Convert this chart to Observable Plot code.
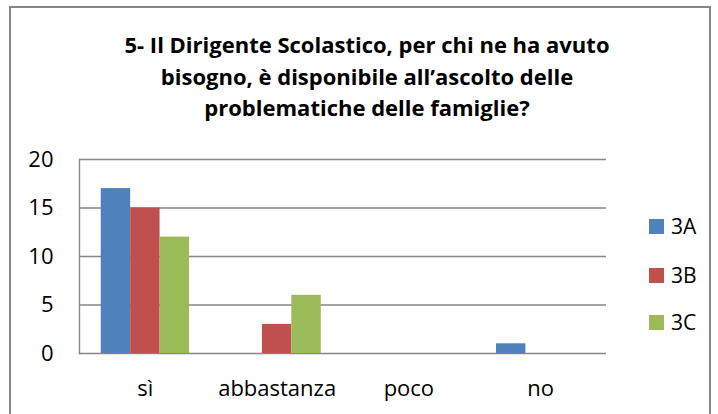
<!DOCTYPE html>
<html>
<head>
<meta charset="utf-8">
<script src="https://cdn.jsdelivr.net/npm/d3@7"></script>
<script src="https://cdn.jsdelivr.net/npm/@observablehq/plot@0.6"></script>
<style>
  html, body { margin: 0; padding: 0; background: #fff; }
  #wrap { position: relative; width: 718px; height: 414px; overflow: hidden; background: #fff; font-family: "Open Sans", sans-serif; }
  #border { position: absolute; left: 9px; top: 6px; width: 702px; height: 430px; border: 2px solid #878787; box-sizing: border-box; pointer-events: none; }
  #title { position: absolute; left: 0; width: 734px; top: 29px; text-align: center; font-weight: bold; font-size: 22px; line-height: 31.5px; color: #000; }
  #chart { position: absolute; left: 0; top: 0; }
  .leg { position: absolute; left: 649px; font-size: 21px; color: #000; height: 15px; }
  .leg span.sw { position: absolute; left: 0; top: 0; width: 15px; height: 15px; }
  .leg span.tx { position: absolute; left: 22px; top: -7px; line-height: 28px; white-space: nowrap; }
</style>
</head>
<body>
<div id="wrap">
  <div id="chart"></div>
  <div id="title"></div>
  <div id="legend"></div>
  <div id="border"></div>
</div>
<script>
const titleLines = ["5- Il Dirigente Scolastico, per chi ne ha avuto", "bisogno, è disponibile all’ascolto delle", "problematiche delle famiglie?"];
const categories = ["sì", "abbastanza", "poco", "no"];
const seriesNames = ["3A", "3B", "3C"];
const values3A = [17, 0, 0, 1];
const values3B = [15, 3, 0, 0];
const values3C = [12, 6, 0, 0];
const yTicks = [0, 5, 10, 15, 20];
const colors = ["#4F81BD", "#C0504D", "#9BBB59"];

document.getElementById("title").innerHTML = titleLines.join("<br>");

const W = 718, H = 414, ML = 79, MR = 112, MT = 159, MB = 61;
const padInner = 0.33, padOuter = padInner / 2;
const step = (W - ML - MR) / categories.length;
const bw = step * (1 - padInner);
const barW = bw / seriesNames.length;

const allSeries = [values3A, values3B, values3C];
const barMarks = allSeries.map((vals, j) => {
  const data = categories.map((c, i) => ({cat: c, value: vals[i]})).filter(d => d.value > 0);
  return Plot.barY(data, {
    x: "cat", y: "value", fill: colors[j],
    insetLeft: j * barW, insetRight: (seriesNames.length - 1 - j) * barW
  });
});

const chart = Plot.plot({
  width: W, height: H,
  marginLeft: ML, marginRight: MR, marginTop: MT, marginBottom: MB,
  style: {fontFamily: "'Open Sans', sans-serif", fontSize: "22px", color: "#000", background: "transparent", overflow: "visible"},
  x: {domain: categories, paddingInner: padInner, paddingOuter: padOuter, align: 0.5, round: false, tickSize: 0, tickPadding: 27, label: null},
  y: {domain: [0, 20], ticks: yTicks, tickSize: 0, tickPadding: 26, label: null},
  marks: [
    Plot.ruleY(yTicks, {stroke: "#868686", strokeWidth: 1.4}),
    Plot.frame({anchor: "left", stroke: "#868686", strokeWidth: 1.4}),
    ...barMarks
  ]
});
document.getElementById("chart").appendChild(chart);

const legendTops = [219, 268, 315];
const legend = document.getElementById("legend");
seriesNames.forEach((s, j) => {
  const d = document.createElement("div");
  d.className = "leg";
  d.style.top = legendTops[j] + "px";
  d.innerHTML = `<span class="sw" style="background:${colors[j]}"></span><span class="tx">${s}</span>`;
  legend.appendChild(d);
});
</script>
</body>
</html>
